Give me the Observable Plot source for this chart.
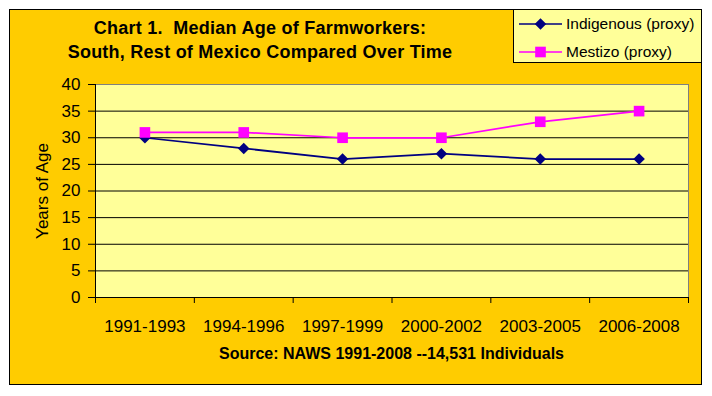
<!DOCTYPE html>
<html>
<head>
<meta charset="utf-8">
<script src="https://cdn.jsdelivr.net/npm/d3@7"></script>
<script src="https://cdn.jsdelivr.net/npm/@observablehq/plot@0.6"></script>
<style>
  html, body { margin: 0; padding: 0; background: #fff; }
  #wrap { position: relative; width: 712px; height: 396px; overflow: hidden; font-family: "Liberation Sans", Arial, sans-serif; }
  #frame { position: absolute; left: 9px; top: 9px; width: 691px; height: 374px; border: 1px solid #000; background: #FFCC00; }
  #chart { position: absolute; left: 0; top: 0; }
  #title { position: absolute; left: 0; top: 16px; width: 520px; text-align: center; font-weight: bold; font-size: 18px; letter-spacing: 0.25px; line-height: 24px; white-space: pre; color: #000; }
  #legend { position: absolute; left: 513px; top: 9px; width: 187px; height: 52px; border: 1px solid #000; background: #FFFF99; }
  #source { position: absolute; left: 95px; width: 593px; top: 344px; text-align: center; font-weight: bold; font-size: 16px; line-height: 20px; color: #000; }
</style>
</head>
<body>
<div id="wrap">
  <div id="frame"></div>
  <div id="chart"></div>
  <div id="title"></div>
  <div id="legend"></div>
  <div id="source"></div>
</div>
<script>
// ---- data ----
const periods = ["1991-1993", "1994-1996", "1997-1999", "2000-2002", "2003-2005", "2006-2008"];
const indigenous = [30, 28, 26, 27, 26, 26];
const mestizo = [31, 31, 30, 30, 33, 35];
const seriesNames = ["Indigenous (proxy)", "Mestizo (proxy)"];
const yTicks = [0, 5, 10, 15, 20, 25, 30, 35, 40];
const titleLines = ["Chart 1.  Median Age of Farmworkers:", "South, Rest of Mexico Compared Over Time"];
const yLabel = "Years of Age";
const sourceText = "Source: NAWS 1991-2008 --14,531 Individuals";

const series = [
  {name: seriesNames[0], values: indigenous, color: "#000080", symbol: "diamond2", d3sym: d3.symbolDiamond2, r: 5.2},
  {name: seriesNames[1], values: mestizo, color: "#FF00FF", symbol: "square", d3sym: d3.symbolSquare, r: 6}
];

const rows = series.flatMap(s => s.values.map((v, i) => ({series: s.name, i, x: i + 0.5, y: v})));

const boundaries = d3.range(periods.length + 1);
const centers = periods.map((_, i) => i + 0.5);

const marks = [
  Plot.frame({fill: "#FFFF99", stroke: "#808080"}),
  Plot.ruleY(yTicks.filter(t => t > 0 && t < 40), {stroke: "#000", strokeWidth: 1}),
  Plot.ruleY([0], {stroke: "#000"}),
  Plot.ruleX([0], {stroke: "#000"}),
  Plot.axisY({ticks: yTicks, tickSize: 7, tickPadding: 8, fontSize: 17, label: yLabel, labelAnchor: "center", labelOffset: 60, labelArrow: "none", fill: "#000", stroke: "#000"}),
  Plot.axisX({ticks: boundaries, tickSize: 6, tickFormat: () => "", label: null, stroke: "#000"}),
  Plot.axisX({ticks: centers, tickSize: 0, tickPadding: 22, tickFormat: d => periods[Math.floor(d)], fontSize: 17, label: null, fill: "#000"})
];
for (const s of series) {
  const data = rows.filter(d => d.series === s.name);
  marks.push(Plot.line(data, {x: "x", y: "y", stroke: s.color, strokeWidth: 1.75}));
  marks.push(Plot.dot(data, {x: "x", y: "y", symbol: s.symbol, fill: s.color, r: s.r, stroke: "none"}));
}

const chart = Plot.plot({
  width: 712,
  height: 396,
  marginLeft: 95,
  marginRight: 24,
  marginTop: 84,
  marginBottom: 99,
  style: {background: "transparent", color: "#000", fontFamily: "'Liberation Sans', Arial, sans-serif"},
  x: {type: "linear", domain: [0, periods.length]},
  y: {domain: [0, 40]},
  marks
});
document.getElementById("chart").appendChild(chart);

document.getElementById("title").textContent = titleLines.join("\n");
document.getElementById("source").textContent = sourceText;

// legend
const legend = document.getElementById("legend");
const ns = "http://www.w3.org/2000/svg";
series.forEach((s, k) => {
  const row = document.createElement("div");
  row.style.cssText = `position:absolute;left:0;top:${k * 28}px;height:28px;width:187px;`;
  const svg = document.createElementNS(ns, "svg");
  svg.setAttribute("width", 50); svg.setAttribute("height", 28);
  svg.style.cssText = "position:absolute;left:0;top:0;";
  const ln = document.createElementNS(ns, "line");
  ln.setAttribute("x1", 5); ln.setAttribute("x2", 48); ln.setAttribute("y1", 14); ln.setAttribute("y2", 14);
  ln.setAttribute("stroke", s.color); ln.setAttribute("stroke-width", 1.5);
  svg.appendChild(ln);
  const path = document.createElementNS(ns, "path");
  path.setAttribute("d", d3.symbol(s.d3sym, s.r * s.r * Math.PI)());
  path.setAttribute("transform", "translate(26.5,14)");
  path.setAttribute("fill", s.color);
  svg.appendChild(path);
  row.appendChild(svg);
  const t = document.createElement("div");
  t.textContent = s.name;
  t.style.cssText = "position:absolute;left:52px;top:4px;font-size:15.5px;line-height:20px;color:#000;white-space:nowrap;";
  row.appendChild(t);
  legend.appendChild(row);
});
</script>
</body>
</html>
